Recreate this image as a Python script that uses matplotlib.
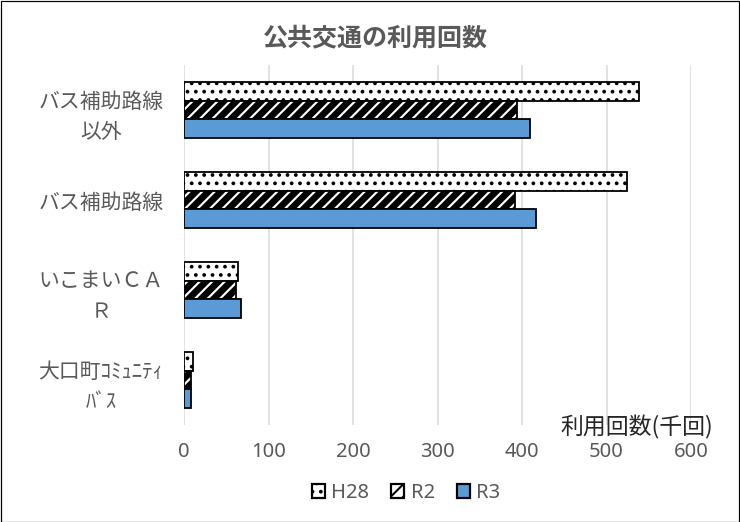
import matplotlib
matplotlib.use("Agg")
import matplotlib.pyplot as plt
import numpy as np
from matplotlib.patches import Rectangle

plt.rcParams['font.family'] = ['Noto Sans CJK JP', 'DejaVu Sans']

DPI = 150
W, H = 740, 522
K = 100.0 / DPI          # converts "points at 100 dpi" to points at DPI
def px(v):               # pixels -> points
    return v * 72.0 / DPI

title = "公共交通の利用回数"
categories = ["バス補助路線\n以外", "バス補助路線", "いこまいＣＡ\nＲ", "大口町ｺﾐｭﾆﾃｨ\nﾊﾞｽ"]
series_names = ["H28", "R2", "R3"]
h28 = [539, 524, 64, 11]
r2 = [394, 392, 62, 8]
r3 = [410, 416, 67, 8]
xticks = [0, 100, 200, 300, 400, 500, 600]
xlabel = "利用回数(千回)"


def with_hatch_lw(artist, lw):
    orig = artist.draw
    def draw(renderer, *a, **kw):
        with plt.rc_context({'hatch.linewidth': lw}):
            return orig(renderer, *a, **kw)
    artist.draw = draw


fig = plt.figure(figsize=(W / DPI, H / DPI), dpi=DPI)
ax = fig.add_axes([184 / W, 1 - 425 / H, 507 / W, 360 / H])

gray = "#595959"
n = len(categories)
pos = np.arange(n)
bh = 0.21
series = [h28, r2, r3]
styles = [
    dict(facecolor="white", hatch="...", edgecolor="black"),
    dict(facecolor="white", hatch="////", edgecolor="black"),
    dict(facecolor="#5B9BD5", hatch=None, edgecolor="black"),
]
hatch_lw = [1.0, 3.2, 1.0]
handles = []
for i, (vals, st) in enumerate(zip(series, styles)):
    plt.rcParams['hatch.linewidth'] = hatch_lw[i]
    b = ax.barh(pos + (i - 1) * bh, vals, height=bh, linewidth=px(1.8),
                label=series_names[i], zorder=3, **st)
    for p in b.patches:
        with_hatch_lw(p, hatch_lw[i])
    handles.append(b)

ax.set_ylim(n - 0.5, -0.5)
ax.set_xlim(0, 600)
ax.set_xticks(xticks)
ax.set_xticklabels([str(t) for t in xticks], family=['Noto Sans', 'DejaVu Sans'])
ax.set_yticks(pos)
ax.set_yticklabels(categories, ha='center', multialignment='center', linespacing=1.5)
ax.tick_params(axis='y', length=0, pad=px(83), labelsize=15 * K, labelcolor=gray)
ax.tick_params(axis='x', length=0, pad=px(17), labelsize=14.5 * K, labelcolor=gray)
ax.grid(axis='x', color="#D9D9D9", linewidth=px(1.5), zorder=0)
for s in ax.spines.values():
    s.set_visible(False)

ax.text((637 - 184) / 507, (425 - 427) / 360, xlabel, transform=ax.transAxes,
        ha='center', va='center', fontsize=16.5 * K, color="#262626")

fig.text(375 / W, 1 - 38 / H, title, ha='center', va='center', fontsize=18 * K,
         fontweight='bold', color=gray)

leg = fig.legend(handles=handles, labels=series_names, loc='center',
                 bbox_to_anchor=(406 / W, 1 - 493 / H), ncol=3, frameon=False,
                 handlelength=0.66, handleheight=0.66, handletextpad=0.3,
                 columnspacing=1.1, prop={'family': ['Noto Sans', 'DejaVu Sans'],
                                          'size': 14.5 * K})
for t in leg.get_texts():
    t.set_color(gray)
for i, hp in enumerate(leg.legend_handles):
    hp.set_linewidth(px(2.2))
    with_hatch_lw(hp, hatch_lw[i])

fig.patches.append(Rectangle((0.5 / W, 0.5 / H), 1 - 1.5 / W, 1 - 1.5 / H,
                             transform=fig.transFigure, fill=False,
                             edgecolor="black", linewidth=px(1.2)))

fig.savefig("out.png", dpi=DPI)
